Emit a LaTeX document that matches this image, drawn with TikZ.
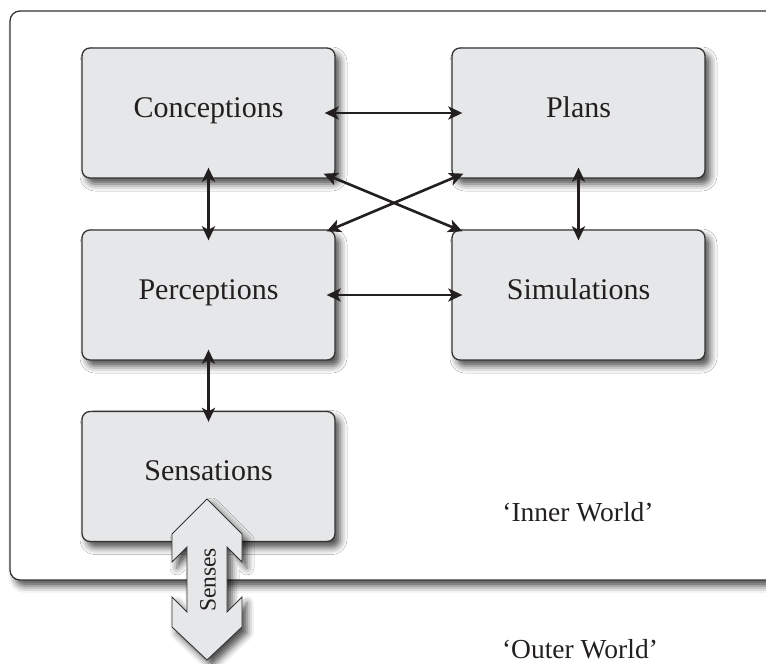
\documentclass[tikz,border=0pt]{standalone}
\usepackage{fontspec}
\setmainfont{Liberation Serif}
\usetikzlibrary{shadows.blur,arrows.meta,calc}
\definecolor{boxfill}{HTML}{E6E7E8}
\definecolor{ink}{HTML}{231F20}
\definecolor{edge}{HTML}{333333}

\begin{document}
\begin{tikzpicture}[x=1pt,y=-1pt,
  softshadow/.style={blur shadow={shadow xshift=5pt, shadow yshift=-6pt,
      shadow blur radius=7pt, shadow opacity=70}},
  stage/.style={draw=edge, line width=1.3pt, fill=boxfill, rounded corners=8pt,
      minimum width=253pt, minimum height=130pt, inner sep=0pt,
      text height=20pt, text depth=12pt,
      font=\fontsize{30}{35}\selectfont, text=ink, softshadow},
  tip/.style={Stealth[length=14pt,width=13pt,inset=3.5pt]},
  link/.style={draw=ink, line width=2.6pt, {Stealth[length=14pt,width=13pt,inset=3.5pt]}-{Stealth[length=14pt,width=13pt,inset=3.5pt]}},
  world/.style={font=\fontsize{27.5}{32}\selectfont, text=ink, anchor=base}
]
\useasboundingbox (0,0) rectangle (766,664);
\clip (0,0) rectangle (766,664);

% the inner world frame, running off to the right
\draw[draw=edge, line width=1.3pt, fill=white, rounded corners=10pt, softshadow]
  (10,11) rectangle (800,580);

% stages
\node[stage] (conc)  at (208.5,113)   {Conceptions};
\node[stage] (plans) at (578.5,113)   {Plans};
\node[stage] (perc)  at (208.5,295)   {Perceptions};
\node[stage] (simu)  at (578.5,295)   {Simulations};
\node[stage] (sens)  at (208.5,476.5) {Sensations};

% links between stages
\draw[link] ($(conc.east)+(-11,0)$) -- ($(plans.west)+(11,0)$);
\draw[link] ($(perc.east)+(-9,0)$) -- ($(simu.west)+(11,0)$);
\draw[link] ($(conc.south)+(0,-11)$) -- ($(perc.north)+(0,11)$);
\draw[link] ($(plans.south)+(0,-11)$) -- ($(simu.north)+(0,11)$);
\draw[link] ($(perc.south)+(0,-11)$) -- ($(sens.north)+(0,11)$);
\draw[link] ($(conc.south east)+(-12,-5)$) -- ($(simu.north west)+(11,2)$);
\draw[link] ($(perc.north east)+(-9,2)$) -- ($(plans.south west)+(12,-5)$);

% the senses: a double arrow crossing the frame
\draw[draw=edge, line width=0.9pt, fill=boxfill, softshadow]
  (207,499) -- (242,534) -- (242,562) -- (227,547) -- (227,612) -- (242,597)
  -- (242,627) -- (207,660) -- (172,627) -- (172,597) -- (187,612)
  -- (187,547) -- (172,562) -- (172,534) -- cycle;
\node[rotate=90, font=\fontsize{23.5}{28}\selectfont, text=ink] (senses) at (208,580) {Senses};

% the two worlds
\node[world] (inner) at (578,521) {‘Inner World’};
\node[world] (outer) at (580,658) {‘Outer World’};
\end{tikzpicture}
\end{document}
